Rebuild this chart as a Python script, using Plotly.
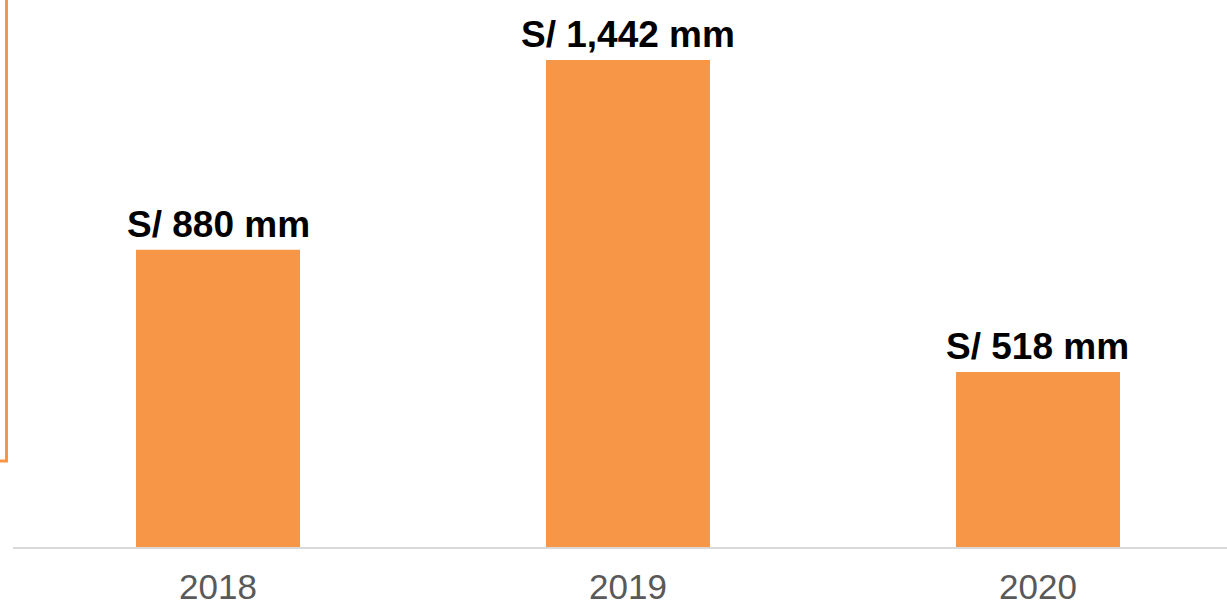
import plotly.graph_objects as go

years = ["2018", "2019", "2020"]
values = [880, 1442, 518]
labels = ["S/ 880 mm", "S/ 1,442 mm", "S/ 518 mm"]

fig = go.Figure()
fig.add_trace(go.Bar(
    x=years, y=values, width=0.4,
    marker=dict(color="#F79646", line=dict(width=0)),
    hoverinfo="skip",
))

for i, (v, lab) in enumerate(zip(values, labels)):
    fig.add_annotation(
        x=i, y=v, xref="x", yref="y", text="<b>" + lab + "</b>",
        showarrow=False, yanchor="bottom", yshift=3,
        font=dict(family="Liberation Sans, Arial, sans-serif", size=37, color="#000000"),
    )

fig.update_layout(
    width=1227, height=607,
    margin=dict(l=13, r=0, t=0, b=60),
    paper_bgcolor="white", plot_bgcolor="white",
    showlegend=False,
    bargap=0.6,
    xaxis=dict(
        type="category", range=[-0.5, 2.461], automargin=False,
        showline=True, linecolor="#D9D9D9", linewidth=2,
        showgrid=False, ticks="", ticklabelstandoff=8,
        tickfont=dict(family="Liberation Sans, Arial, sans-serif", size=35, color="#595959"),
    ),
    yaxis=dict(range=[0, 1620], visible=False, showgrid=False),
)

fig.add_shape(type="rect", xref="paper", yref="paper",
              x0=-0.05, x1=-0.00535, y0=0.157, y1=1.2,
              line=dict(color="#F79646", width=3), fillcolor="rgba(0,0,0,0)")

fig.write_html("out.html", config={"displayModeBar": False},
               post_script="document.body.style.margin='0';document.body.style.overflow='hidden';")
